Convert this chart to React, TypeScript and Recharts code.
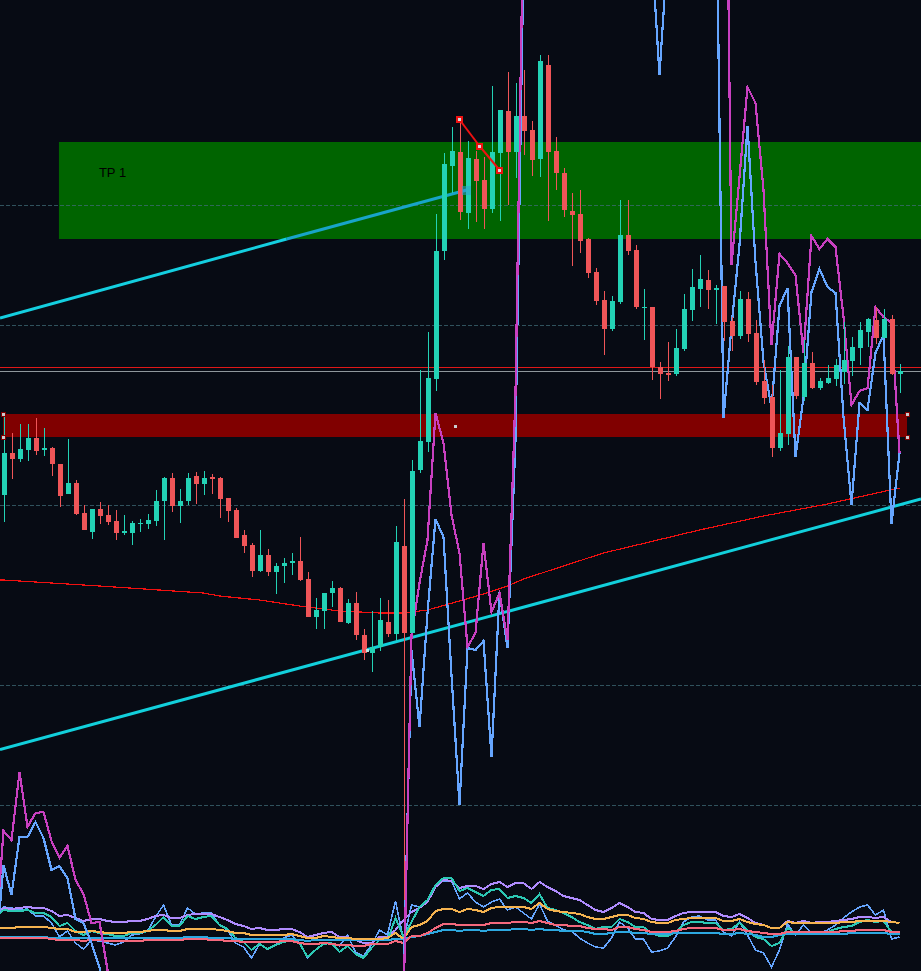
import React from 'react';
import { ComposedChart, XAxis, YAxis, Bar, Line, ReferenceLine, ReferenceArea, ReferenceDot } from 'recharts';

// The chart has no printed scale: levels are read off the picture, growing downwards.
const candleDirections = [
  'uduududdud', 'duddduuuuu', 'uduududddd', 'dduduuuddu', 'uududduudu',
  'duuuuuudud', 'duududdudd', 'dddddduudd', 'uddduuuudu', 'dduddddeud'.replace('e', 'u'), 'uduuuuuuud', 'udu',
].join('');
const candleHigh = [415,433,424,424,418,428,447,464,439,480,505,509,502,505,510,515,521,519,514,490,477,473,489,473,472,471,474,477,498,508,530,543,530,549,563,558,553,537,572,598,593,581,587,599,592,629,611,598,600,526,499,460,370,332,214,153,127,120,141,151,157,86,110,72,83,70,121,55,55,137,168,193,190,238,268,291,296,200,200,245,289,307,362,342,329,294,269,255,270,285,286,317,291,292,320,360,385,370,346,357,340,352,378,365,359,322,337,322,318,307,309,315,364];
const candleTop = [453,453,449,438,438,448,448,464,483,483,513,509,509,515,521,531,523,523,520,501,478,478,501,478,476,478,477,478,498,510,535,545,555,555,566,563,561,561,579,610,593,588,588,603,603,635,647,620,622,542,546,471,441,378,251,164,151,152,158,159,180,152,110,111,116,116,130,61,65,151,173,211,214,239,272,300,301,235,235,250,307,307,367,373,348,309,287,279,280,288,286,321,299,299,333,381,397,433,357,357,363,363,381,378,365,360,347,330,319,320,319,319,371];
const candleBottom = [495,459,459,450,451,450,464,496,494,514,530,532,516,522,533,533,533,524,524,521,501,506,506,501,484,484,479,499,511,538,546,571,571,572,572,566,563,580,617,617,611,593,622,623,635,653,653,647,634,634,633,633,470,442,379,251,166,212,213,181,209,209,153,152,152,131,160,159,152,173,210,215,241,273,301,329,329,302,251,307,308,367,374,375,374,349,310,289,290,290,322,336,336,334,382,398,448,448,434,396,397,388,388,383,379,372,361,348,332,338,338,374,374];
const candleLow = [522,479,462,461,455,456,476,507,494,515,530,539,524,525,540,535,545,532,529,526,540,512,523,505,504,495,494,518,522,538,553,577,572,576,594,583,575,581,617,629,629,607,622,624,640,660,672,651,637,641,900,633,473,452,391,260,193,220,229,222,229,213,221,205,178,155,176,177,221,190,217,266,253,278,305,355,331,304,255,309,340,380,399,381,376,351,321,307,309,324,341,351,339,342,385,404,457,451,445,399,401,389,390,384,386,384,376,365,347,344,338,375,393];

const n = null;
// First entry of every series is the bar just off the left edge. null = off the picture.
const oscMagenta = [941,831,840,772,827,813,812,841,858,846,880,894,923,922,970,1250,n,n,n,n,n,n,n,n,n,n,n,n,n,n,n,n,n,n,n,n,n,n,n,n,n,n,n,n,n,n,n,n,n,n,n,1005,635,583,540,413,443,515,553,647,633,543,612,593,640,393,-100,n,n,n,n,n,n,n,n,n,n,n,n,n,n,n,n,n,n,n,n,n,n,n,n,-440,265,177,87,103,190,345,254,263,275,353,236,249,239,247,317,405,391,388,307,317,323,453];
const oscBlue = [957,865,895,837,837,822,838,870,866,878,919,923,943,967,1020,n,n,n,n,n,n,n,n,n,n,n,n,n,n,n,n,n,n,n,n,n,n,n,n,n,n,n,n,n,n,n,n,n,n,n,n,985,650,727,613,519,537,675,805,648,650,641,757,592,648,440,-40,n,n,n,n,n,n,n,n,n,n,n,n,n,n,n,-55,75,-48,n,n,n,n,n,-170,418,327,245,126,262,362,408,306,288,457,397,292,269,287,293,417,505,403,410,353,335,524,453];
const panelPurple = [915,908,909,908,907,908,908,911,916,915,918,921,919,919,921,922,922,921,921,919,916,915,918,918,915,914,914,914,917,920,924,926,929,928,930,930,929,929,932,937,935,933,932,937,937,940,943,943,937,937,930,920,912,908,902,887,880,881,888,886,886,889,884,882,887,883,883,889,882,887,891,896,898,900,905,910,912,908,903,907,912,913,919,920,920,916,913,912,912,912,912,916,917,914,918,923,925,928,928,921,923,921,923,922,922,921,920,919,917,917,918,917,922,923];
const panelTeal = [917,910,911,911,910,913,913,917,926,923,931,935,931,933,934,936,936,933,933,931,925,917,926,926,916,919,917,916,925,929,938,942,950,944,949,945,942,940,943,957,950,944,943,952,946,954,958,948,940,940,918,937,922,907,900,885,878,878,891,888,892,896,890,889,898,896,898,903,894,908,910,913,917,922,925,929,927,927,919,922,927,927,933,936,936,932,925,922,922,923,923,930,929,923,930,937,939,946,943,928,933,932,933,933,932,929,927,926,922,920,922,921,932,934];
const panelSoftBlue = [915,907,908,910,909,916,916,923,937,931,943,949,940,941,943,945,942,935,934,931,917,905,925,925,908,914,913,913,925,930,943,947,958,944,949,945,938,935,943,958,950,944,943,946,935,952,956,945,930,935,901,940,905,907,900,885,881,881,899,893,902,907,902,899,910,907,913,919,904,921,925,930,931,938,943,947,948,938,922,928,939,939,952,951,948,937,922,917,916,920,920,932,936,922,935,950,953,967,950,924,935,925,933,933,930,925,918,912,907,905,915,910,939,937];
const panelOrange = [929,928,928,927,927,927,927,928,929,929,932,932,931,932,933,933,933,932,932,931,930,930,931,931,929,929,929,929,930,931,933,933,935,935,935,935,935,934,936,938,938,936,937,938,938,939,939,939,939,938,933,939,927,925,921,911,909,909,912,909,910,912,908,907,907,907,907,909,903,909,911,912,913,914,917,919,919,917,915,915,918,919,922,923,923,920,919,918,918,918,918,921,921,919,922,924,925,928,928,922,923,923,923,923,923,923,922,922,921,921,921,921,922,923];
const panelPink = [939,938,938,938,938,938,938,939,940,940,940,941,940,940,941,941,941,941,941,940,940,940,940,940,939,939,939,940,940,941,941,942,942,942,942,942,941,941,943,944,944,943,944,945,945,946,946,944,944,944,941,943,936,936,933,928,924,924,925,925,925,925,923,923,923,922,922,923,921,923,925,925,926,926,928,929,929,930,927,927,929,930,932,932,932,931,929,928,928,928,928,930,930,929,931,932,933,934,934,932,932,932,932,932,932,932,931,931,930,930,930,930,932,932];
const panelSky = [938,937,937,937,937,937,937,938,938,938,938,938,938,938,938,938,938,938,938,938,938,938,938,938,937,937,937,938,938,938,939,939,939,939,939,939,939,939,940,941,940,940,940,940,940,940,940,940,940,940,939,939,937,936,934,932,930,930,931,930,930,931,930,930,930,929,929,930,929,930,930,931,931,931,932,934,934,933,932,932,933,933,934,934,934,933,933,933,933,933,933,934,934,933,934,935,937,937,935,934,934,934,934,934,934,934,934,933,933,933,933,933,934,934];

const averageBars = [-1,0,12,25,27,32,37,42,47,50,53,57,60,63,65,75,87,95,103,112];
const averageLevels = [580,580,586,593,596,600,606,611,613,613,610,601,594,586,579,553,530,516,504,488];

const gridLevels = [205.5, 325.5, 505.5, 685.5, 805.5];
const lastBar = 112;
const X_MIN = -0.4375;
const X_MAX = 114.6875;

const rows: any[] = [];
for (let k = -1; k <= lastBar; k++) {
  const avgAt = averageBars.indexOf(k);
  rows.push({
    x: k,
    range: k >= 0 ? [candleHigh[k], candleLow[k]] : null,
    hi: candleHigh[k],
    top: candleTop[k],
    bot: candleBottom[k],
    lo: candleLow[k],
    dir: candleDirections[k],
    magenta: oscMagenta[k + 1],
    blue: oscBlue[k + 1],
    purple: panelPurple[k + 1],
    teal: panelTeal[k + 1],
    soft: panelSoftBlue[k + 1],
    orange: panelOrange[k + 1],
    pink: panelPink[k + 1],
    sky: panelSky[k + 1],
    avg: avgAt >= 0 ? averageLevels[avgAt] : null,
  });
}

const UP = '#23d2b5';
const DOWN = '#ef5558';

const Candle = (props: any) => {
  const { x, y, width, height, payload } = props;
  if (!payload || payload.hi == null) return null;
  const cx = x + width / 2;
  const yStart = Math.min(y, y + height);
  const k = Math.abs(height) / (payload.lo - payload.hi);
  const color = payload.dir === 'u' ? UP : DOWN;
  return (
    <g shapeRendering="crispEdges">
      <rect x={cx - 0.5} y={yStart} width={1} height={Math.abs(height)} fill={color} />
      <rect x={cx - 2.5} y={yStart + (payload.top - payload.hi) * k} width={5} height={Math.max(1, (payload.bot - payload.top) * k)} fill={color} />
    </g>
  );
};

const handle = (size: number, fill: string, stroke: string, opacity = 1, sw = 1) => (p: any) => (
  <rect x={p.cx - size / 2} y={p.cy - size / 2} width={size} height={size} fill={fill} stroke={stroke} strokeWidth={sw} opacity={opacity} shapeRendering="crispEdges" />
);

const chain = [
  { x: 56.94, chainY: 119 },
  { x: 59.5, chainY: 146 },
  { x: 62, chainY: 170 },
];

const osc = (key: string, color: string, width: number) => (
  <Line key={key} dataKey={key} stroke={color} strokeWidth={width} dot={false} activeDot={false} isAnimationActive={false} connectNulls type="linear" shapeRendering="crispEdges" zIndex={200} />
);

export default function App() {
  return (
    <div style={{ position: 'absolute', left: 0, top: 0, width: 921, height: 971, background: '#070b14', overflow: 'hidden' }}>
      <ComposedChart width={921} height={971} data={rows} margin={{ top: 0, right: 0, bottom: 0, left: 0 }}>
        <XAxis hide dataKey="x" type="number" domain={[X_MIN, X_MAX]} allowDataOverflow />
        <YAxis hide type="number" domain={[0, 971]} reversed allowDataOverflow />
        <ReferenceArea x1={6.93} x2={X_MAX} y1={142} y2={239} fill="#006400" fillOpacity={1} stroke="none" zIndex={10} />
        <ReferenceArea x1={-0.0625} x2={112.94} y1={414} y2={437} fill="#800000" fillOpacity={1} stroke="none" zIndex={10} />
        {gridLevels.map((g) => (
          <ReferenceLine key={g} y={g} stroke="#3f6b75" strokeOpacity={0.75} strokeDasharray="4 2" shapeRendering="crispEdges" zIndex={20} />
        ))}
        <ReferenceLine y={367.5} stroke="#e01818" strokeWidth={1} shapeRendering="crispEdges" zIndex={30} />
        <ReferenceLine y={371.5} stroke="#8f979c" strokeWidth={1} shapeRendering="crispEdges" zIndex={30} />
        <ReferenceLine segment={[{ x: X_MIN, y: 749.5 }, { x: X_MAX, y: 499 }]} stroke="#12d0dc" strokeWidth={3} zIndex={40} />
        <ReferenceLine segment={[{ x: X_MIN, y: 318 }, { x: 35.4, y: 239 }]} stroke="#14cfe0" strokeWidth={3} zIndex={40} />
        <ReferenceLine segment={[{ x: 35.4, y: 239 }, { x: 57.9, y: 190 }]} stroke="#18a4c8" strokeWidth={3} zIndex={40} />
        <Line dataKey="avg" stroke="#f01010" strokeWidth={1.2} dot={false} activeDot={false} connectNulls isAnimationActive={false} shapeRendering="crispEdges" zIndex={50} />
        {osc('soft', '#66a6ff', 1.6)}
        {osc('purple', '#b08cff', 2)}
        {osc('teal', '#2cc8b4', 2)}
        {osc('sky', '#2da8e0', 2)}
        {osc('pink', '#f4687c', 2)}
        {osc('orange', '#f5b350', 2)}
        {osc('blue', '#66a6ff', 2.2)}
        {osc('magenta', '#c840c0', 2.2)}
        <Bar dataKey="range" barSize={5} shape={Candle} isAnimationActive={false} zIndex={300} />
        <ReferenceDot x={13.625} y={172} r={0} fill="none" stroke="none" zIndex={350} label={{ value: 'TP 1', position: 'center', fill: '#000000', fontSize: 13, fontFamily: 'Liberation Sans' }} />
        <ReferenceLine segment={[{ x: 56.94, y: 119 }, { x: 59.5, y: 146 }]} stroke="#ee1111" strokeWidth={2} zIndex={400} />
        <ReferenceLine segment={[{ x: 59.5, y: 146 }, { x: 62, y: 170 }]} stroke="#ee1111" strokeWidth={2} zIndex={400} />
        {chain.map((c) => (
          <ReferenceDot key={c.x} x={c.x} y={c.chainY} shape={handle(5, '#d5d9dc', '#ee1111', 1, 2)} zIndex={410} />
        ))}
        <ReferenceDot x={57.9} y={190.5} shape={handle(8, '#2f9fd0', '#2f9fd0', 0.55)} zIndex={410} />
        <ReferenceDot x={45.5} y={650} shape={handle(3, '#b8e6e6', 'none')} zIndex={410} />
        <ReferenceDot x={0} y={414.5} shape={handle(4, '#c8ccd0', '#800000')} zIndex={410} />
        <ReferenceDot x={0} y={437.5} shape={handle(4, '#c8ccd0', '#800000')} zIndex={410} />
        <ReferenceDot x={112.94} y={414.5} shape={handle(4, '#c8ccd0', '#800000')} zIndex={410} />
        <ReferenceDot x={112.94} y={437.5} shape={handle(4, '#c8ccd0', '#800000')} zIndex={410} />
        <ReferenceDot x={56.5} y={426.5} shape={handle(3, '#c8ccd0', 'none')} zIndex={410} />
      </ComposedChart>
    </div>
  );
}
